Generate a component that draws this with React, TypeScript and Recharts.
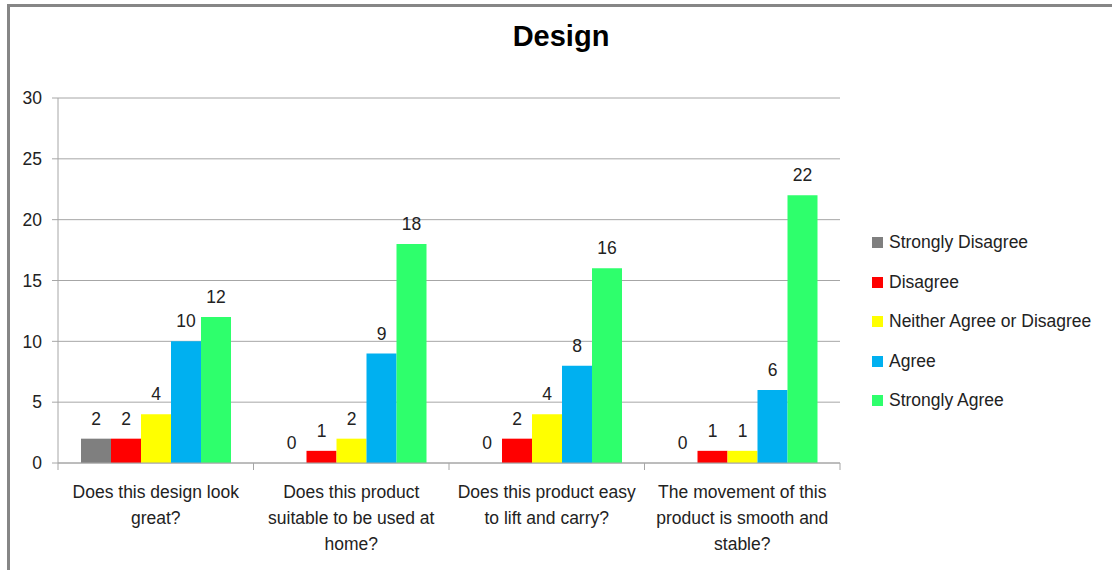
import React from 'react';
import { BarChart, Bar, XAxis, YAxis, CartesianGrid, LabelList } from 'recharts';

// categories (line breaks as drawn in the original)
const questions = [
  'Does this design look\ngreat?',
  'Does this product\nsuitable to be used at\nhome?',
  'Does this product easy\nto lift and carry?',
  'The movement of this\nproduct is smooth and\nstable?',
];

const seriesNames = ['Strongly Disagree', 'Disagree', 'Neither Agree or Disagree', 'Agree', 'Strongly Agree'];

const stronglyDisagree = [2, 0, 0, 0];
const disagree = [2, 1, 2, 1];
const neither = [4, 2, 4, 1];
const agree = [10, 9, 8, 6];
const stronglyAgree = [12, 18, 16, 22];

const yTicks = [0, 5, 10, 15, 20, 25, 30];

const COLORS = ['#7F7F7F', '#FF0000', '#FFFF00', '#00B0F0', '#2EFF6C'];
const FONT = '"Liberation Sans", Arial, sans-serif';
const GRID = '#A6A6A6';
const TEXT = '#222';

const seriesValues = [stronglyDisagree, disagree, neither, agree, stronglyAgree];

const data = questions.map((q, i) => {
  const row: any = { name: q };
  seriesNames.forEach((s, k) => {
    row[s] = seriesValues[k][i];
  });
  return row;
});

const CategoryTick = (props: any) => {
  const { x, y, payload, index, visibleTicksCount } = props;
  const half = payload.offset || 0;
  const lines = String(payload.value).split('\n');
  return (
    <g>
      <line x1={x - half} x2={x - half} y1={y} y2={y + 7} stroke={GRID} />
      {index === visibleTicksCount - 1 && (
        <line x1={x + half} x2={x + half} y1={y} y2={y + 7} stroke={GRID} />
      )}
      <text x={x} y={y + 35} textAnchor="middle" fill={TEXT} fontSize={17.5} fontFamily={FONT}>
        {lines.map((l, i) => (
          <tspan key={i} x={x} dy={i === 0 ? 0 : 26}>{l}</tspan>
        ))}
      </text>
    </g>
  );
};

// value above each bar, zeros included
const ValueLabel = (props: any) => {
  const { x, y, width, height, value } = props;
  if (value == null) return null;
  const top = Number(y) + (Number(height) < 0 ? Number(height) : 0);
  return (
    <text x={Number(x) + Number(width) / 2} y={top - 14} textAnchor="middle" fill={TEXT} fontSize={17.5} fontFamily={FONT}>
      {value}
    </text>
  );
};

// keeps zero bars in the layout (hair-thin) so their "0" label is drawn
const zeroMin = (v: any) => (v === 0 ? 0.01 : 0);

export default function App() {
  return (
    <div style={{ position: 'absolute', left: 0, top: 0, width: 1112, height: 570, background: '#fff', overflow: 'hidden' }}>
      <div style={{ position: 'absolute', left: 7, top: 4, width: 1200, height: 700, borderTop: '3px solid #868686', borderLeft: '3px solid #868686' }} />
      <div style={{ position: 'absolute', left: 0, top: 20, width: 1122, textAlign: 'center', fontFamily: FONT, fontWeight: 'bold', fontSize: 29, color: '#000' }}>
        Design
      </div>
      <div style={{ position: 'absolute', left: 0, top: 0 }}>
        <BarChart
          width={1112}
          height={570}
          data={data}
          margin={{ top: 98, right: 272, bottom: 0, left: 0 }}
          barCategoryGap={23}
          barGap={0}
        >
          <CartesianGrid vertical={false} stroke={GRID} />
          <XAxis
            dataKey="name"
            height={107}
            interval={0}
            tickSize={0}
            tickMargin={0}
            tickLine={false}
            axisLine={{ stroke: GRID }}
            tick={<CategoryTick />}
          />
          <YAxis
            width={58}
            domain={[0, 30]}
            ticks={yTicks}
            interval={0}
            tickSize={6}
            tickMargin={10}
            axisLine={{ stroke: GRID }}
            tickLine={{ stroke: GRID }}
            tick={{ fill: TEXT, fontSize: 17.5, fontFamily: FONT }}
          />
          {seriesNames.map((s, k) => (
            <Bar key={s} dataKey={s} fill={COLORS[k]} minPointSize={zeroMin} isAnimationActive={false}>
              <LabelList dataKey={s} content={<ValueLabel />} />
            </Bar>
          ))}
        </BarChart>
      </div>
      <div style={{ position: 'absolute', left: 872, top: 223, fontFamily: FONT, fontSize: 17.5, color: TEXT }}>
        {seriesNames.map((s, k) => (
          <div key={s} style={{ display: 'flex', alignItems: 'center', height: 39.5 }}>
            <span style={{ display: 'inline-block', width: 11, height: 11, background: COLORS[k], marginRight: 6 }} />
            <span>{s}</span>
          </div>
        ))}
      </div>
    </div>
  );
}
